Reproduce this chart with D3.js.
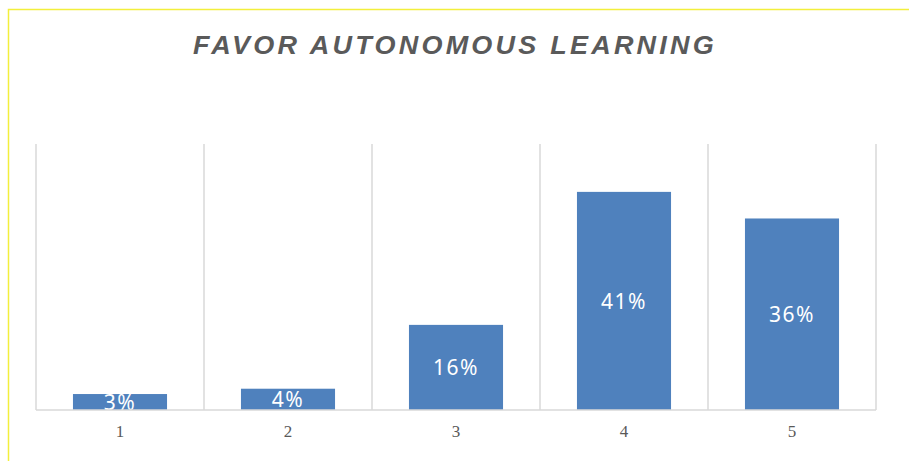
<!DOCTYPE html>
<html>
<head>
    <meta charset="utf-8">
    <title>Favor Autonomous Learning</title>
    <script src="https://d3js.org/d3.v7.min.js"></script>
    <style>
        body { margin: 0; background: #fff; }
    </style>
</head>
<body>
    <div id="chart"></div>
    <script>
        // data
        var categories = ["1", "2", "3", "4", "5"];
        var shares = [0.03, 0.04, 0.16, 0.41, 0.36];
        var title = "FAVOR AUTONOMOUS LEARNING";

        var W = 909, H = 461;
        var plot = { left: 36, right: 876, top: 144, bottom: 410 };

        var svg = d3.select("#chart")
            .append("svg")
            .attr("width", W)
            .attr("height", H);

        // yellow frame (top and left edges visible)
        svg.append("path")
            .attr("d", "M8.5," + H + "V9.5H" + W)
            .attr("fill", "none")
            .attr("stroke", "#f3ef3c")
            .attr("stroke-width", 1.5);

        svg.append("text")
            .attr("x", 455)
            .attr("y", 54)
            .attr("text-anchor", "middle")
            .attr("font-family", "Liberation Sans, Arial, sans-serif")
            .attr("font-style", "italic")
            .attr("font-weight", "bold")
            .attr("font-size", 25)
            .attr("letter-spacing", 3)
            .attr("fill", "#5a5a5a")
            .attr("textLength", 524)
            .attr("lengthAdjust", "spacingAndGlyphs")
            .text(title);

        var x = d3.scaleBand()
            .domain(categories)
            .range([plot.left, plot.right])
            .paddingInner(0.44)
            .paddingOuter(0.22);

        var xCat = d3.scaleBand()
            .domain(categories)
            .range([plot.left, plot.right]);

        var y = d3.scaleLinear()
            .domain([0, 0.5])
            .range([plot.bottom, plot.top]);

        // vertical gridlines at category boundaries
        var bounds = categories.map(function (c) { return xCat(c); }).concat([plot.right]);
        svg.selectAll(".grid")
            .data(bounds)
            .enter()
            .append("line")
            .attr("class", "grid")
            .attr("x1", function (d) { return d; })
            .attr("x2", function (d) { return d; })
            .attr("y1", plot.top)
            .attr("y2", plot.bottom)
            .attr("stroke", "#d9d9d9")
            .attr("stroke-width", 1.5);

        svg.append("clipPath")
            .attr("id", "plotClip")
            .append("rect")
            .attr("x", plot.left)
            .attr("y", plot.top)
            .attr("width", plot.right - plot.left)
            .attr("height", plot.bottom - plot.top);

        var g = svg.append("g").attr("clip-path", "url(#plotClip)");

        g.selectAll(".bar")
            .data(shares)
            .enter()
            .append("rect")
            .attr("class", "bar")
            .attr("x", function (d, i) { return x(categories[i]); })
            .attr("width", x.bandwidth())
            .attr("y", function (d) { return y(d); })
            .attr("height", function (d) { return y(0) - y(d); })
            .attr("fill", "#4f81bd");

        g.selectAll(".label")
            .data(shares)
            .enter()
            .append("text")
            .attr("class", "label")
            .attr("x", function (d, i) { return x(categories[i]) + x.bandwidth() / 2; })
            .attr("y", function (d) { return (y(d) + y(0)) / 2; })
            .attr("dy", "0.36em")
            .attr("text-anchor", "middle")
            .attr("font-family", "Noto Sans, sans-serif")
            .attr("font-size", 21)
            .attr("letter-spacing", 1.5)
            .attr("fill", "#fff")
            .text(function (d) { return d3.format(".0%")(d); });

        // baseline
        svg.append("line")
            .attr("x1", plot.left)
            .attr("x2", plot.right)
            .attr("y1", plot.bottom)
            .attr("y2", plot.bottom)
            .attr("stroke", "#d9d9d9")
            .attr("stroke-width", 1.5);

        var xAxis = svg.append("g")
            .attr("transform", "translate(0," + plot.bottom + ")")
            .call(d3.axisBottom(xCat).tickSize(0).tickPadding(15));
        xAxis.select(".domain").remove();
        xAxis.selectAll("text")
            .attr("font-family", "Liberation Serif, serif")
            .attr("font-size", 17)
            .attr("fill", "#595959");
    </script>
</body>
</html>
